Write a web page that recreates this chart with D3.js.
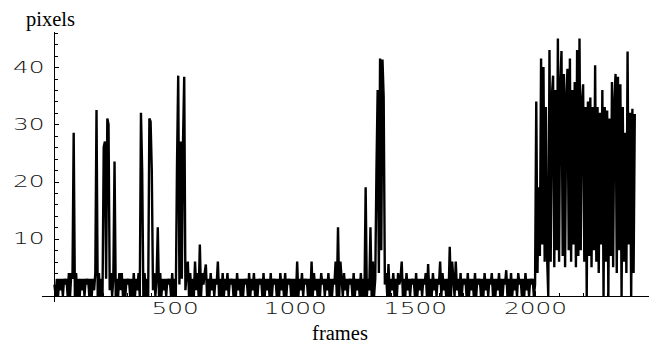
<!DOCTYPE html>
<html lang="en">

<head>
    <meta charset="UTF-8">
    <title>pixels per frame</title>
    <script src="https://d3js.org/d3.v7.min.js" charset="utf-8"></script>
    <style type="text/css">
        body {
            margin: 0;
            background: #fff;
        }

        .axis path,
        .axis line {
            fill: none;
            stroke: black;
            stroke-width: 1;
            shape-rendering: crispEdges;
        }

        .axis text {
            font-family: "DejaVu Sans", sans-serif;
            font-weight: 200;
            font-size: 16px;
            fill: #111;
        }

        .label {
            font-family: "Liberation Serif", "Times New Roman", serif;
            font-size: 20.5px;
        }
    </style>
</head>

<body>
    <script type="text/javascript">
        let w = 653,
            h = 343;

        // one value every 5 frames
        const frameStep = 5;

        // frames 0 - 995
        const pixelsA = [
            2, 0, 3, 0, 3, 1, 3, 0, 3, 2, 3, 0, 4, 0, 4, 3, 28.5, 0, 4, 0,
            3, 0, 3, 1, 3, 0, 3, 2, 3, 0, 3, 0, 3, 1, 4, 32.5, 0, 4, 0, 3,
            0, 26, 27, 3, 31, 30, 1, 4, 0, 3, 23.5, 0, 3, 0, 4, 1, 4, 0, 3, 0,
            3, 2, 3, 0, 3, 0, 4, 0, 3, 1, 4, 0, 32, 22, 0, 4, 0, 3, 0, 31,
            30.5, 22, 1, 4, 0, 3, 12, 0, 4, 0, 3, 1, 3, 0, 3, 2, 3, 0, 4, 0,
            3, 0, 23, 38.5, 2, 27, 3, 27, 38.3, 1, 4, 6, 0, 4, 0, 3, 0, 6, 1, 4,
            0, 9, 0, 4, 2, 4, 5.5, 0, 3, 0, 4, 1, 3, 0, 3, 2, 6, 0, 3, 0,
            4, 0, 3, 1, 4, 0, 3, 2, 3, 0, 3, 0, 4, 1, 3, 0, 3, 0, 3, 2,
            3, 0, 4, 0, 3, 1, 4, 0, 3, 0, 3, 2, 3, 0, 4, 0, 3, 1, 3, 0,
            4, 0, 3, 2, 3, 0, 3, 0, 4, 1, 3, 0, 4, 0, 3, 2, 3, 0, 3, 0
        ];

        // frames 1000 - 1995
        const pixelsB = [
            3, 0, 6, 0, 3, 1, 4, 0, 3, 2, 3, 0, 3, 0, 6, 0, 4, 1, 3, 0,
            3, 0, 4, 2, 3, 0, 3, 1, 4, 0, 3, 0, 3, 2, 6, 0, 12, 0, 6, 3,
            0, 4, 1, 3, 0, 3, 2, 3, 0, 4, 0, 3, 1, 3, 0, 4, 0, 3, 0, 19,
            0, 3, 1, 12, 0, 6, 0, 3, 22, 36, 4, 41.5, 8, 41.3, 34.7, 2, 4, 0, 5.6, 0,
            3, 1, 4, 0, 3, 0, 4, 2, 3, 6, 0, 3, 0, 4, 1, 3, 0, 3, 2, 3,
            0, 4, 0, 3, 1, 3, 0, 3, 2, 4, 0, 5.6, 0, 3, 0, 4, 1, 3, 0, 3,
            2, 6, 0, 4, 1, 3, 0, 3, 0, 8.6, 0, 6, 3, 0, 6, 1, 3, 0, 4, 0,
            3, 2, 3, 0, 4, 0, 3, 1, 3, 0, 4, 0, 3, 2, 3, 0, 3, 0, 4, 1,
            3, 0, 3, 2, 4, 0, 3, 0, 3, 1, 4, 0, 3, 0, 3, 2, 4.5, 0, 3, 0,
            4, 0, 3, 1, 3, 0, 4, 2, 3, 0, 3, 0, 4, 1, 3, 0, 3, 2, 3, 0
        ];

        // frames 2000 - 2415
        const pixelsC = [
            2, 34, 4, 19, 7, 41.5, 9, 40, 6, 33, 7, 0, 43, 6, 35, 38.5, 5, 36, 8, 45,
            6, 37, 42.8, 7, 38.8, 5, 35, 39.7, 8, 41.5, 6, 36, 9, 37.4, 5, 43, 7, 45, 8, 34,
            37, 6, 33, 0, 34, 7, 34.7, 5, 33, 8, 40.3, 6, 33, 4, 32, 9, 36, 0, 33, 6,
            32.4, 0, 31, 7, 37.4, 5, 34, 38.8, 4, 38.3, 8, 37, 0, 33, 6, 28.5, 4, 42.7, 9, 32,
            0, 32.7, 4, 31.8
        ];

        const xMajorTicks = [500, 1000, 1500, 2000];
        const yMajorTicks = [10, 20, 30, 40];

        const dataset = pixelsA.concat(pixelsB, pixelsC).map(function (v, i) {
            return { frame: i * frameStep, px: v };
        });

        let svg = d3.select("body").append("svg").attr('width', w).attr('height', h);

        const xScale = d3.scaleLinear()
            .domain([-56, 2470])
            .range([41, 648]);

        const yScale = d3.scaleLinear()
            .domain([-1, 46.3])
            .range([301.7, 31]);

        // the series, drawn heavy so the dense parts fill in
        const line = d3.line()
            .x(function (d) { return xScale(d.frame); })
            .y(function (d) { return yScale(d.px); });

        svg.append("path")
            .datum(dataset)
            .attr("d", line)
            .attr("fill", "none")
            .attr("stroke", "#000")
            .attr("stroke-width", 2.4);

        // axes cross at (0, 0), ticks point into the plot
        const xMinor = d3.range(100, 2500, 100).filter(function (t) { return t % 500 !== 0; });
        const yMinor = d3.range(2, 47, 2).filter(function (t) { return t % 10 !== 0; });

        const xAxis = d3.axisBottom(xScale)
            .tickValues(xMajorTicks)
            .tickSizeInner(-5)
            .tickSizeOuter(0)
            .tickPadding(7)
            .tickFormat(d3.format("d"));

        const xAxisMinor = d3.axisBottom(xScale)
            .tickValues(xMinor)
            .tickSizeInner(-3)
            .tickSizeOuter(0)
            .tickFormat("");

        const yAxis = d3.axisLeft(yScale)
            .tickValues(yMajorTicks)
            .tickSizeInner(-5)
            .tickSizeOuter(0)
            .tickPadding(10)
            .tickFormat(d3.format("d"));

        const yAxisMinor = d3.axisLeft(yScale)
            .tickValues(yMinor)
            .tickSizeInner(-3.3)
            .tickSizeOuter(0)
            .tickFormat("");

        const x0 = xScale(0),
            y0 = yScale(0);

        svg.append('g').attr('class', 'axis')
            .attr('transform', `translate(0, ${y0})`)
            .call(xAxisMinor);

        const xAxisLine = svg.append('g')
            .attr('class', 'axis')
            .attr('transform', `translate(0, ${y0})`)
            .call(xAxis);

        svg.append('g').attr('class', 'axis')
            .attr('transform', `translate(${x0}, 0)`)
            .call(yAxisMinor);

        const yAxisLine = svg.append('g')
            .attr('class', 'axis')
            .attr('transform', `translate(${x0}, 0)`)
            .call(yAxis);

        // wide digits like the original
        const stretch = 1.55;
        xAxisLine.selectAll("text").attr("transform", `scale(${stretch},1)`);
        yAxisLine.selectAll("text")
            .attr("x", -10 / stretch)
            .attr("transform", `scale(${stretch},1)`);

        svg.append("text")
            .attr("class", "label")
            .attr("x", 26)
            .attr("y", 26)
            .text("pixels");

        svg.append("text")
            .attr("class", "label")
            .attr("x", 340)
            .attr("y", 340)
            .attr("text-anchor", "middle")
            .text("frames");
    </script>
</body>

</html>
